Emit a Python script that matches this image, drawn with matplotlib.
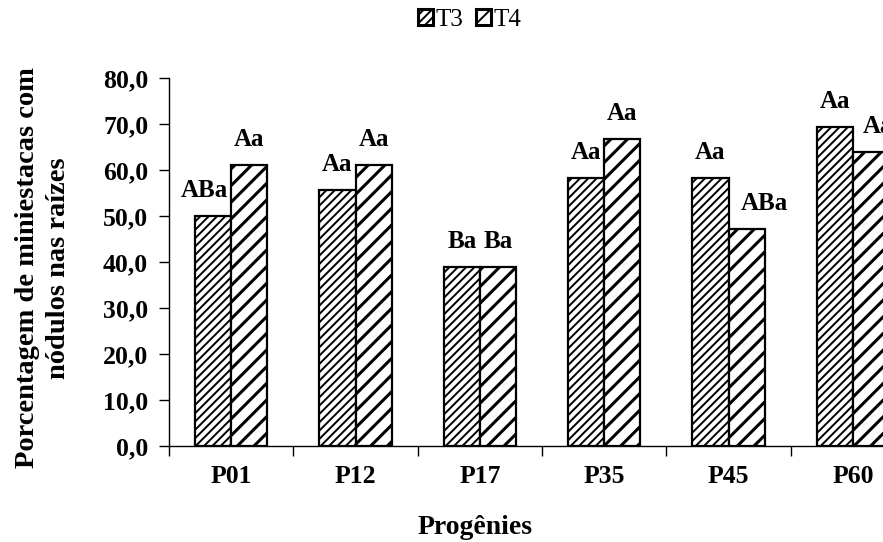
import matplotlib
matplotlib.use("Agg")
import matplotlib.pyplot as plt
import numpy as np
from matplotlib.patches import Patch

plt.rcParams['font.family'] = ['Liberation Serif', 'DejaVu Serif']
plt.rcParams['hatch.linewidth'] = 1.4

categories = ["P01", "P12", "P17", "P35", "P45", "P60"]
t3 = [50.0, 55.6, 39.0, 58.3, 58.3, 69.4]
t4 = [61.1, 61.1, 39.0, 66.7, 47.2, 63.9]
labels_t3 = ["ABa", "Aa", "Ba", "Aa", "Aa", "Aa"]
labels_t4 = ["Aa", "Aa", "Ba", "Aa", "ABa", "Aa"]
yticks = [0, 10, 20, 30, 40, 50, 60, 70, 80]

fig = plt.figure(figsize=(8.83, 5.42), dpi=100)
ax = fig.add_axes([169/883, 96/542, 746/883, 368/542])

x = np.arange(len(categories)) + 0.5
w = 0.29
b3 = ax.bar(x - w/2, t3, w, facecolor='white', edgecolor='black', linewidth=1.6, hatch='////')
b4 = ax.bar(x + w/2, t4, w, facecolor='white', edgecolor='black', linewidth=1.6, hatch='//')
for p in b4:
    try:
        p.set_hatch_linewidth(2.2)
    except AttributeError:
        pass

dx3 = [-6, 0, 0, 0, 0, 0]
dx4 = [0, 0, 0, 0, 13, 5]
for i in range(len(categories)):
    ax.annotate(labels_t3[i], (x[i] - w/2, t3[i]), xytext=(dx3[i], 10), textcoords='offset points',
                ha='center', va='bottom', fontsize=18, fontweight='bold')
    ax.annotate(labels_t4[i], (x[i] + w/2, t4[i]), xytext=(dx4[i], 10), textcoords='offset points',
                ha='center', va='bottom', fontsize=18, fontweight='bold')

ax.set_xlim(0, 6)
ax.set_ylim(0, 80)
ax.set_yticks(yticks)
ax.set_yticklabels([f"{v:.1f}".replace('.', ',') for v in yticks], fontsize=18.5, fontweight='bold')
ax.set_xticks(x)
ax.set_xticklabels(categories, fontsize=18.5, fontweight='bold')
ax.set_xticks(np.arange(0, 7), minor=True)
ax.tick_params(axis='x', which='major', length=0, pad=14)
ax.tick_params(axis='x', which='minor', length=7, direction='out', width=1)
ax.tick_params(axis='y', length=7, direction='out', width=1, pad=8)
for s in ['top', 'right']:
    ax.spines[s].set_visible(False)
for s in ['left', 'bottom']:
    ax.spines[s].set_linewidth(1.0)

fig.text(475/883, 1 - 527/542, "Progênies", ha='center', va='center', fontsize=20, fontweight='bold')
fig.text(43/883, 1 - 268/542, "Porcentagem de miniestacas com\nnódulos nas raízes", ha='center', va='center',
         rotation=90, fontsize=20.5, fontweight='bold', linespacing=1.35)

h3 = Patch(facecolor='white', edgecolor='black', linewidth=2.2, hatch='////', label='T3')
h4 = Patch(facecolor='white', edgecolor='black', linewidth=2.2, hatch='/', label='T4')
fig.legend(handles=[h3, h4], loc='center', bbox_to_anchor=(470/883, 1 - 20/542), ncol=2, frameon=False,
           fontsize=18, handlelength=0.6, handleheight=0.6, handletextpad=0.1, columnspacing=0.5,
           borderpad=0)

fig.savefig("out.png", dpi=100)
